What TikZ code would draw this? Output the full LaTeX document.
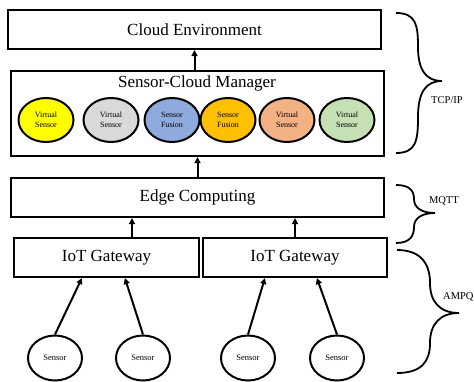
\documentclass[tikz,border=0pt]{standalone}
\usepackage{fontspec}
\setmainfont{Liberation Serif}
\usetikzlibrary{shapes.geometric,arrows.meta,calc}
\definecolor{cyel}{RGB}{255,255,0}
\definecolor{cgray}{RGB}{217,217,217}
\definecolor{cblue}{RGB}{143,170,220}
\definecolor{corange}{RGB}{255,192,0}
\definecolor{csalmon}{RGB}{244,177,131}
\definecolor{cgreen}{RGB}{197,224,180}
\tikzset{
  layerbox/.style={draw, line width=2.2pt, rectangle, inner sep=0pt, minimum height=39pt, font=\fontsize{17}{20}\selectfont},
  vsens/.style={draw, line width=2pt, ellipse, inner sep=0pt, minimum width=55pt, minimum height=44pt, align=center, font=\fontsize{8}{10.5}\selectfont},
  sens/.style={draw, line width=2pt, ellipse, inner sep=0pt, minimum width=54pt, minimum height=45pt, font=\fontsize{8.5}{10}\selectfont},
  arr/.style={line width=2pt, -{Triangle[length=6pt,width=6pt]}},
  bracel/.style={line width=1.8pt},
  protolabel/.style={font=\fontsize{10.5}{12}\selectfont, inner sep=0pt}
}
\begin{document}
\begin{tikzpicture}[x=1pt,y=-1pt]
\useasboundingbox (0,0) rectangle (474,381);
% layer boxes
\node[layerbox, minimum width=373pt] (cloud) at (194.5,29.5) {Cloud Environment};
\node[layerbox, minimum width=373pt, minimum height=85pt] (scm) at (197.5,113.5) {};
\node[font=\fontsize{17}{20}\selectfont, inner sep=0pt] (scmtitle) at (197,83) {Sensor-Cloud Manager};
\node[layerbox, minimum width=373pt] (edge) at (197.5,197.5) {Edge Computing};
\node[layerbox, minimum width=185pt] (gw1) at (106.5,257.5) {IoT Gateway};
\node[layerbox, minimum width=184pt] (gw2) at (295,257.5) {IoT Gateway};
% virtual sensors
\node[vsens, fill=cyel] (v1) at (46,120) {Virtual\\Sensor};
\node[vsens, fill=cgray] (v2) at (111,120) {Virtual\\Sensor};
\node[vsens, fill=cblue] (v3) at (172,120) {Sensor\\Fusion};
\node[vsens, fill=corange] (v4) at (228,120) {Sensor\\Fusion};
\node[vsens, fill=csalmon] (v5) at (287,120) {Virtual\\Sensor};
\node[vsens, fill=cgreen] (v6) at (347,120) {Virtual\\Sensor};
% sensors
\node[sens] (s1) at (55,358) {Sensor};
\node[sens] (s2) at (143,358) {Sensor};
\node[sens] (s3) at (248,358) {Sensor};
\node[sens] (s4) at (337,358) {Sensor};
% connector end points on gateways
\coordinate (g1a) at ($(gw1.south west)+(69,0)$);
\coordinate (g1b) at ($(gw1.south west)+(112,0)$);
\coordinate (g2a) at ($(gw2.south west)+(63,0)$);
\coordinate (g2b) at ($(gw2.south west)+(115,0)$);
\coordinate (e1) at ($(gw1.north)+(25.5,0)$);
% arrows
\draw[arr] (scm.north -| cloud.south) -- (cloud.south);
\draw[arr] (edge.north) -- (scm.south);
\draw[arr] (e1) -- (e1 |- edge.south);
\draw[arr] (gw2.north) -- (gw2.north |- edge.south);
\draw[arr] (s1.north) -- (g1a);
\draw[arr] (s2.north) -- (g1b);
\draw[arr] (s3.north) -- (g2a);
\draw[arr] (s4.north) -- (g2b);
% braces
\draw[bracel] (396,13) .. controls (416,13) and (418,25) .. (418,47)
  .. controls (418,70) and (426,81) .. (442,81)
  .. controls (426,81) and (418,92) .. (418,117)
  .. controls (418,141) and (416,153) .. (396,153);
\draw[bracel] (396,185) .. controls (410,185) and (414,191) .. (414,199)
  .. controls (414,208) and (422,213) .. (435,213)
  .. controls (422,213) and (414,218) .. (414,227)
  .. controls (414,236) and (410,243) .. (396,243);
\draw[bracel] (397,250) .. controls (422,250) and (430,265) .. (430,283)
  .. controls (430,302) and (440,313) .. (459,313)
  .. controls (440,313) and (430,324) .. (430,343)
  .. controls (430,361) and (422,373) .. (397,373);
% protocol labels
\node[protolabel] (tcp) at (447,100) {TCP/IP};
\node[protolabel] (mqtt) at (444,201) {MQTT};
\node[protolabel, anchor=west] (ampq) at (443,297) {AMPQ};
\end{tikzpicture}
\end{document}
